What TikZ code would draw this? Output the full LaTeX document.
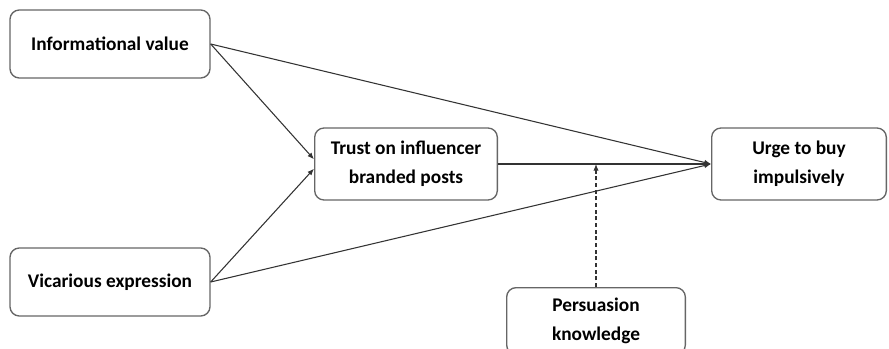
\documentclass[tikz,border=0pt]{standalone}
\usepackage{fontspec}
\setmainfont{Carlito}
\usetikzlibrary{arrows.meta}

\begin{document}
\begin{tikzpicture}[x=0.75pt, y=-0.75pt, >={Latex[length=5pt,width=4pt]},
  box/.style={draw=black!60, line width=1pt, rounded corners=7pt, fill=white,
    align=center, inner sep=0pt, font=\bfseries\fontsize{14.5}{21.5}\selectfont},
  link/.style={->, line width=0.8pt, draw=black!80}]
  % рамка страницы
  \useasboundingbox (0,0) rectangle (889,349);

  % блоки
  \node[box, minimum width=150pt, minimum height=51pt] (info) at (110,44) {Informational value};
  \node[box, minimum width=150pt, minimum height=51pt] (vic) at (110,282) {Vicarious expression};
  \node[box, minimum width=137pt, minimum height=54pt] (trust) at (406,164) {Trust on influencer\\branded posts};
  \node[box, minimum width=131pt, minimum height=54pt] (urge) at (799,164) {Urge to buy\\impulsively};
  \node[box, minimum width=134pt, minimum height=50pt] (pers) at (596,321) {Persuasion\\knowledge};

  % связи
  \draw[link] (info.east) -- ([yshift=3.5pt]trust.west);
  \draw[link] (vic.east) -- ([yshift=-3.5pt]trust.west);
  \draw[link] (info.east) -- (urge.west);
  \draw[link] (vic.east) -- (urge.west);
  \draw[link] (trust.east) -- (urge.west);
  \draw[link, densely dashed] (pers.north) -- (pers.north |- trust.east);
\end{tikzpicture}
\end{document}
